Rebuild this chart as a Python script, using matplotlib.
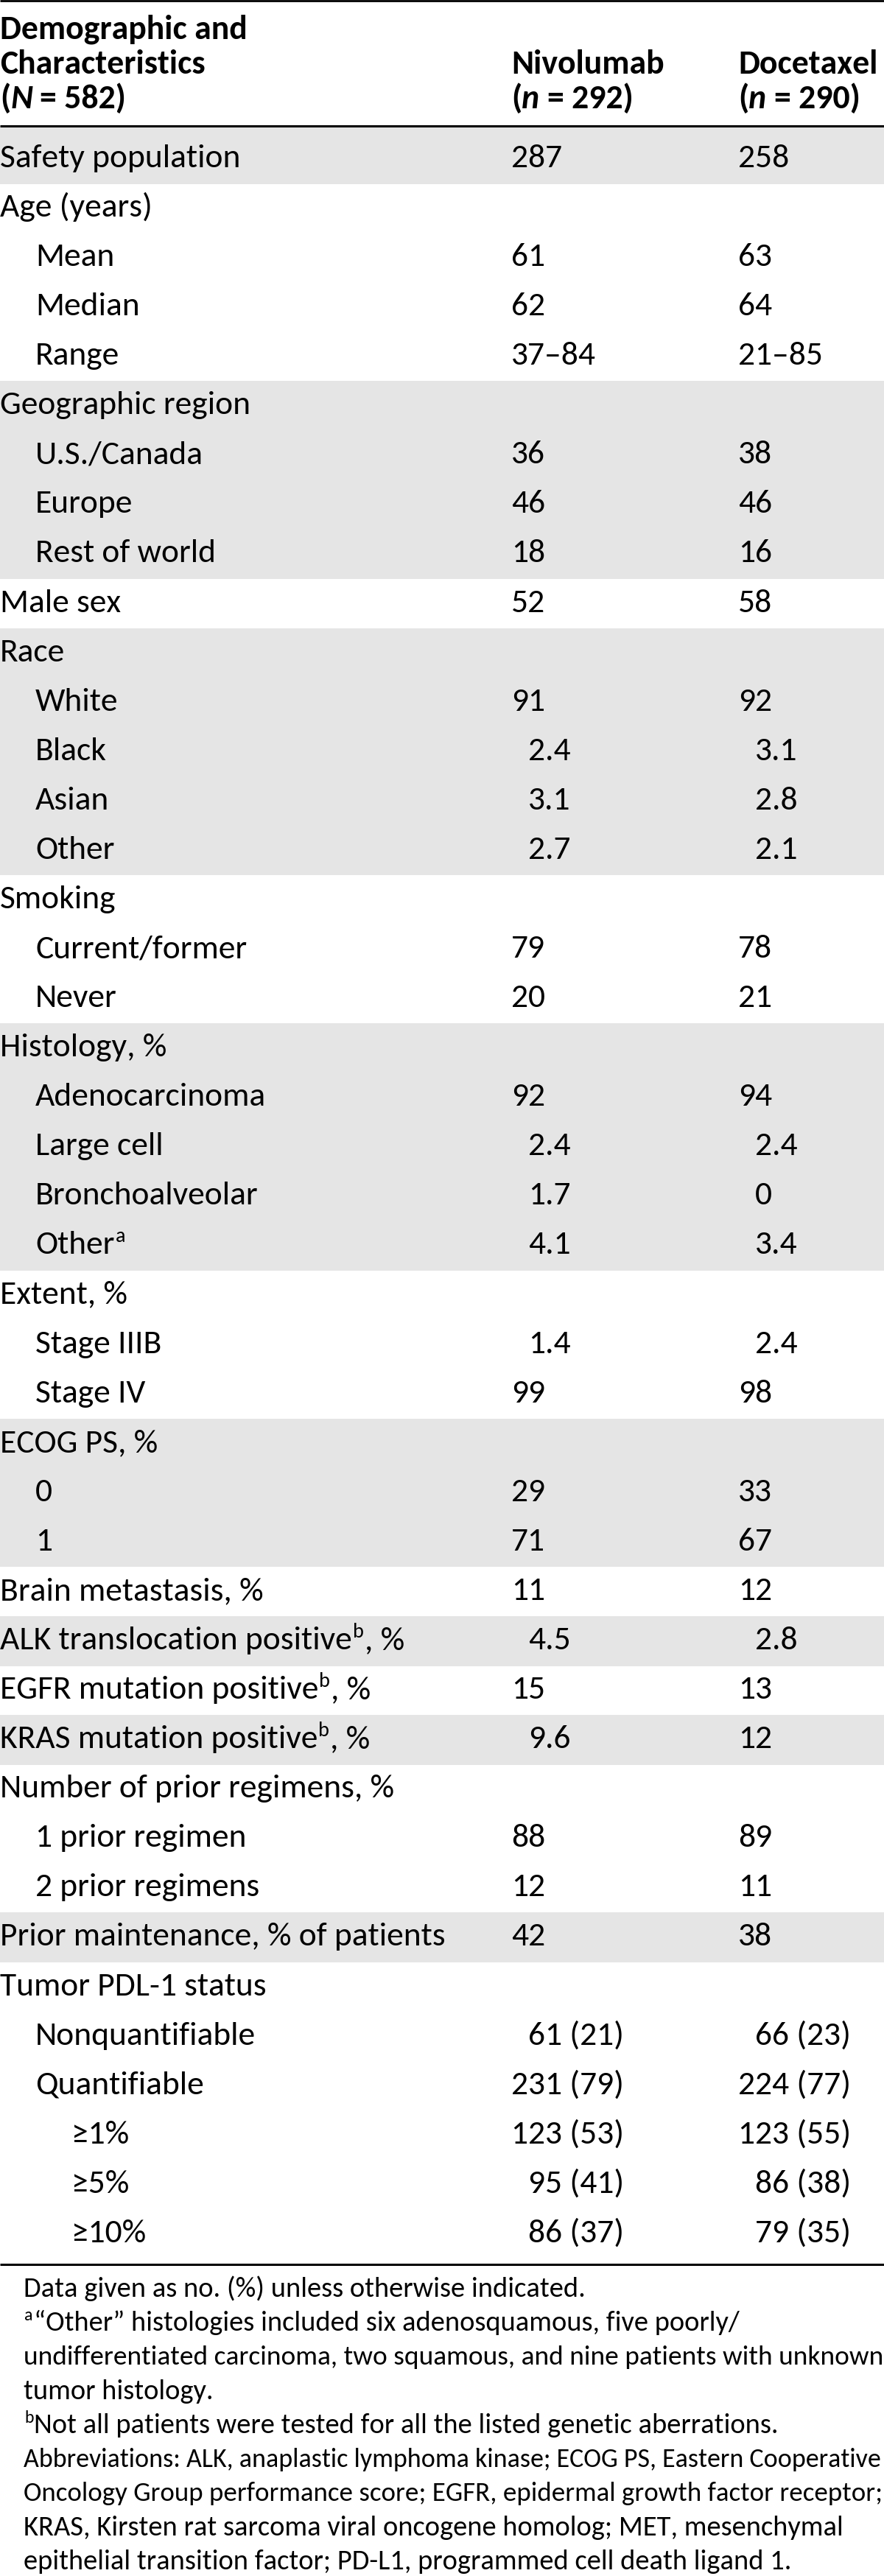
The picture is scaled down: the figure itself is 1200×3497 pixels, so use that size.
import matplotlib
matplotlib.use("Agg")
import matplotlib.pyplot as plt
from matplotlib import font_manager as fm
from matplotlib.patches import Rectangle

# ---------------- data ----------------
header_left = ["Demographic and", "Characteristics", "(^N = 582)"]
arm_names = ["Nivolumab", "Docetaxel"]
arm_n = ["(^n = 292)", "(^n = 290)"]

labels = [
    "Safety population",
    "Age (years)", "Mean", "Median", "Range",
    "Geographic region", "U.S./Canada", "Europe", "Rest of world",
    "Male sex",
    "Race", "White", "Black", "Asian", "Other",
    "Smoking", "Current/former", "Never",
    "Histology, %", "Adenocarcinoma", "Large cell", "Bronchoalveolar", "Other^a",
    "Extent, %", "Stage IIIB", "Stage IV",
    "ECOG PS, %", "0", "1",
    "Brain metastasis, %",
    "ALK translocation positive^b, %",
    "EGFR mutation positive^b, %",
    "KRAS mutation positive^b, %",
    "Number of prior regimens, %", "1 prior regimen", "2 prior regimens",
    "Prior maintenance, % of patients",
    "Tumor PDL-1 status", "Nonquantifiable", "Quantifiable", "\u22651%", "\u22655%", "\u226510%",
]
levels = [
    0,
    0, 1, 1, 1,
    0, 1, 1, 1,
    0,
    0, 1, 1, 1, 1,
    0, 1, 1,
    0, 1, 1, 1, 1,
    0, 1, 1,
    0, 1, 1,
    0,
    0,
    0,
    0,
    0, 1, 1,
    0,
    0, 1, 1, 2, 2, 2,
]
nivolumab = [
    "287",
    "", "61", "62", "37\u201384",
    "", "36", "46", "18",
    "52",
    "", "91", "2.4", "3.1", "2.7",
    "", "79", "20",
    "", "92", "2.4", "1.7", "4.1",
    "", "1.4", "99",
    "", "29", "71",
    "11",
    "4.5",
    "15",
    "9.6",
    "", "88", "12",
    "42",
    "", "61 (21)", "231 (79)", "123 (53)", "95 (41)", "86 (37)",
]
docetaxel = [
    "258",
    "", "63", "64", "21\u201385",
    "", "38", "46", "16",
    "58",
    "", "92", "3.1", "2.8", "2.1",
    "", "78", "21",
    "", "94", "2.4", "0", "3.4",
    "", "2.4", "98",
    "", "33", "67",
    "12",
    "2.8",
    "13",
    "12",
    "", "89", "11",
    "38",
    "", "66 (23)", "224 (77)", "123 (55)", "86 (38)", "79 (35)",
]
footnotes = [
    "Data given as no. (%) unless otherwise indicated.",
    "^a\u201cOther\u201d histologies included six adenosquamous, five poorly/",
    "undifferentiated carcinoma, two squamous, and nine patients with unknown",
    "tumor histology.",
    "^bNot all patients were tested for all the listed genetic aberrations.",
    "Abbreviations: ALK, anaplastic lymphoma kinase; ECOG PS, Eastern Cooperative",
    "Oncology Group performance score; EGFR, epidermal growth factor receptor;",
    "KRAS, Kirsten rat sarcoma viral oncogene homolog; MET, mesenchymal",
    "epithelial transition factor; PD-L1, programmed cell death ligand 1.",
]

# ---------------- styling ----------------
avail = {f.name for f in fm.fontManager.ttflist}
FAM = next(f for f in ["Carlito", "Lato", "Open Sans", "DejaVu Sans"] if f in avail)
FAMS = [FAM, "DejaVu Sans"]
GRAY = "#e5e5e5"
W, H = 1200, 3498

fig = plt.figure(figsize=(W / 100, H / 100), dpi=100)
ax = fig.add_axes([0, 0, 1, 1])
ax.set_xlim(0, W)
ax.set_ylim(H, 0)
ax.axis("off")
renderer = fig.canvas.get_renderer()


def width(s, size, weight="normal", style="normal"):
    t = ax.text(0, 0, s, fontsize=size, fontweight=weight, fontstyle=style, family=FAMS)
    w = t.get_window_extent(renderer).width
    t.remove()
    return w


def adv(s, size, weight="normal", style="normal"):
    return width("x" + s + "x", size, weight, style) - width("xx", size, weight, style)


BODY = 30 * 327 / width("Safety population", 30)
BOLD = 30 * 335 / width("Demographic and", 30, "bold")
# footnote size fitted on the first three lines (reference widths ~800, ~955, ~1163 px)
_fw = (width(footnotes[0], 30) + width(footnotes[1].replace("^a", ""), 30)
       + width(footnotes[2], 30))
FOOT = 30 * (800 + 955 + 1163) / _fw


def runs_from(s):
    """'^x' -> superscript char x (for text labels)."""
    parts = s.split("^")
    runs = []
    if parts[0]:
        runs.append(("n", parts[0]))
    for p in parts[1:]:
        if p:
            runs.append(("sup", p[0]))
            if p[1:]:
                runs.append(("n", p[1:]))
    return runs


def draw_runs(x, y, runs, size, weight="normal"):
    for kind, s in runs:
        if kind == "n":
            ax.text(x, y, s, fontsize=size, fontweight=weight, va="baseline",
                    ha="left", family=FAMS, color="black")
            x += adv(s, size, weight)
        elif kind == "sup":
            ss = size * 0.62
            ax.text(x + 1, y - size * 100 / 72 * 0.36, s, fontsize=ss, fontweight=weight,
                    va="baseline", ha="left", family=FAMS, color="black")
            x += adv(s, ss, weight) + 2
        elif kind == "it":
            ax.text(x, y, s, fontsize=size, fontweight=weight, fontstyle="italic",
                    va="baseline", ha="left", family=FAMS, color="black")
            x += adv(s, size, weight, "italic")
    return x


def draw_nheader(x, y, s, size):
    # "(^N = 582)" -> "(" + italic N + " = 582)"
    pre, rest = s.split("^")
    letter, tail = rest[0], rest[1:]
    x = draw_runs(x, y, [("n", pre)], size, "bold")
    x = draw_runs(x, y, [("it", letter)], size, "bold")
    x += adv(" ", size, "bold")
    draw_runs(x, y, [("n", tail.strip())], size, "bold")


# ---------------- geometry ----------------
COLX = [694, 1002]
INDENT = [0, 48, 97]
PITCH = 67.07
FIRST_TOP, FIRST_BOT = 173, 250

# bands
group = -1
base = []
for i in range(len(labels)):
    if i == 0:
        t, b = FIRST_TOP, FIRST_BOT
        bl = 227
    else:
        t = FIRST_BOT + (i - 1) * PITCH
        b = t + PITCH
        bl = t + 44
    base.append(bl)
    if levels[i] == 0:
        group += 1
    if group % 2 == 0:
        ax.add_patch(Rectangle((0, t), W, b - t + 0.5, facecolor=GRAY, edgecolor="none", zorder=0))

# rules
ax.hlines(2, 0, W, color="black", lw=2.0)
ax.hlines(172, 0, W, color="black", lw=2.2)
ax.hlines(3075, 0, W, color="black", lw=2.2)

# header
hb = [53, 100, 147]
draw_runs(0, hb[0], [("n", header_left[0])], BOLD, "bold")
draw_runs(0, hb[1], [("n", header_left[1])], BOLD, "bold")
draw_nheader(0, hb[2], header_left[2], BOLD)
for cx, nm, nn in zip(COLX, arm_names, arm_n):
    draw_runs(cx, hb[1], [("n", nm)], BOLD, "bold")
    draw_nheader(cx, hb[2], nn, BOLD)

# body
digit_w = adv("0", BODY)
for i, lab in enumerate(labels):
    draw_runs(INDENT[levels[i]], base[i], runs_from(lab), BODY)
    for cx, v in zip(COLX, (nivolumab[i], docetaxel[i])):
        if not v:
            continue
        nd = 0
        for ch in v:
            if ch.isdigit():
                nd += 1
            else:
                break
        ref = 3 if "(" in v else 2
        pad = max(0, ref - nd) * digit_w
        draw_runs(cx + pad, base[i], [("n", v)], BODY)

# footnotes
FX = 32
FMAX = 1197
for j, line in enumerate(footnotes):
    y = 3118 + j * 46.25
    runs = runs_from(line)
    size = FOOT
    tot = sum(adv(s, size) for k, s in runs if k == "n")
    avail_w = FMAX - FX - (12 if any(k == "sup" for k, _ in runs) else 0)
    if tot > avail_w:
        size = FOOT * avail_w / tot
    draw_runs(FX, y, runs, size)

fig.savefig("out.png", dpi=100, facecolor="white")
